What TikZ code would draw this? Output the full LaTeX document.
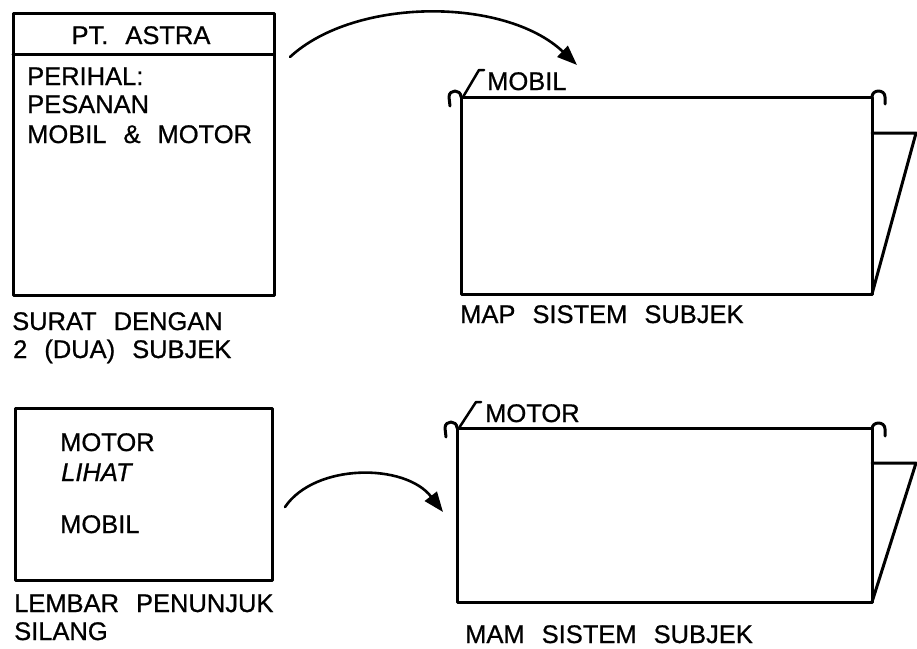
\documentclass[tikz,border=0pt]{standalone}
\usepackage{fontspec}
\setmainfont[WordSpace=2.4,FakeBold=0.8]{Liberation Sans}
\usetikzlibrary{arrows.meta}
\begin{document}
\begin{tikzpicture}[x=1pt,y=-1pt,line join=round,line cap=round,
  lbl/.style={anchor=base west,inner sep=0pt,font=\fontsize{25.5}{30}\selectfont},
  ctr/.style={anchor=base,inner sep=0pt,font=\fontsize{25.5}{30}\selectfont},
  edge/.style={line width=3pt},
  thin/.style={line width=2.5pt},
  arr/.style={line width=2.6pt,-{Triangle[length=20pt,width=15pt]}}]
\useasboundingbox (0,0) rectangle (917,648);

% ---------- top-left letter ----------
\draw[edge] (13,13) rectangle (274,295);
\draw[edge] (13,54) -- (274,54);
\node[ctr] (astra) at (141,44) {PT. ASTRA};
\node[lbl] (perihal) at (27,85) {PERIHAL:};
\node[lbl] (pesanan) at (27,113) {PESANAN};
\node[lbl] (mobmot) at (27,143) {MOBIL \& MOTOR};
\node[lbl] (surat1) at (12,330) {SURAT DENGAN};
\node[lbl] (surat2) at (13,358) {2 (DUA) SUBJEK};

% ---------- top folder ----------
\draw[edge] (461,97) rectangle (872,294);
\draw[edge] (872,133) -- (916,133) -- (872,294);
% hooks
\draw[edge] (461,97) .. controls (461,89) and (449,89) .. (449,97) -- (450,106);
\draw[edge] (872,97) .. controls (872,89) and (885,89) .. (885,97) -- (885,104);
% tab
\draw[thin] (463,97) -- (479,70) -- (484,70);
\node[lbl] (tabmobil) at (487,90) {MOBIL};
\node[lbl] (map) at (460,323) {MAP SISTEM SUBJEK};

% ---------- bottom-left sheet ----------
\draw[edge] (15,408) rectangle (272,580);
\node[lbl] (motor) at (60,451) {MOTOR};
\node[lbl] (lihat) at (61,481) {\itshape LIHAT};
\node[lbl] (mobil) at (60,533) {MOBIL};
\node[lbl] (lembar) at (14,612) {LEMBAR PENUNJUK};
\node[lbl] (silang) at (14,640) {SILANG};

% ---------- bottom folder ----------
\draw[edge] (457,428) rectangle (872,602);
\draw[edge] (872,463) -- (916,463) -- (872,602);
% hooks
\draw[edge] (457,428) .. controls (457,420) and (445,420) .. (445,428) -- (446,437);
\draw[edge] (872,429) .. controls (872,421) and (885,421) .. (885,429) -- (885,436);
% tab
\draw[thin] (459,428) -- (476,402) -- (481,402);
\node[lbl] (tabmotor) at (485,422) {MOTOR};
\node[lbl] (mam) at (465,643) {MAM SISTEM SUBJEK};

% ---------- arrows ----------
\coordinate (a1s) at (290,57);
\coordinate (a1e) at (577,65);
\coordinate (a2s) at (285,507);
\coordinate (a2e) at (443,512);
\draw[arr] (a1s) .. controls (355,-3) and (505,-3) .. (a1e);
\draw[arr] (a2s) .. controls (315,463) and (405,463) .. (a2e);
\end{tikzpicture}
\end{document}
